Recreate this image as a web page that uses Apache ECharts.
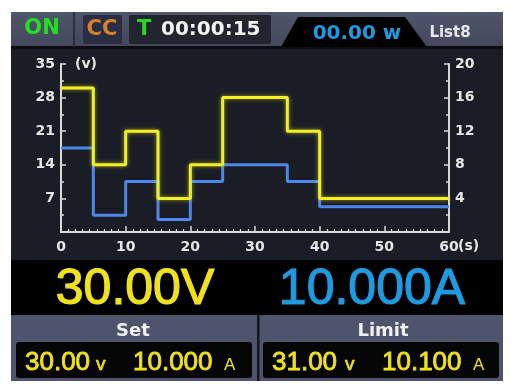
<!DOCTYPE html>
<html><head><meta charset="utf-8">
<script src="https://cdn.jsdelivr.net/npm/echarts@6/dist/echarts.min.js"></script>
<style>html,body{margin:0;padding:0;background:#fff;}#c{width:516px;height:390px;}</style>
</head><body><div id="c"></div>
<script>
// ---- data ----
const stepTimes    = [0, 5, 10, 15, 20, 25, 35, 40, 60];
const voltageSteps = [30, 14, 21, 7, 14, 28, 21, 7, 7];
const currentSteps = [10, 2, 6, 1.5, 6, 8, 6, 3, 3];
const voltAxis = {min: 0, max: 35, interval: 7};
const ampAxis  = {min: 0, max: 20, interval: 4};
const timeAxis = {min: 0, max: 60, interval: 10};
const voltUnit = '(v)', timeUnit = '(s)';
const statusOn = 'ON', modeText = 'CC', timerLabel = 'T', timerValue = '00:00:15';
const powerText = '00.00 w', listName = 'List8';
const readVolt = '30.00V', readAmp = '10.000A';
const setTitle = 'Set', limitTitle = 'Limit';
const setVolt = '30.00', setAmp = '10.000', limitVolt = '31.00', limitAmp = '10.100';

const chart = echarts.init(document.getElementById('c'), null, {renderer: 'canvas'});
const AX = '#d9d9d9';
const DJ = 'DejaVu Sans', LS = 'Liberation Sans';
const YEL = '#f0e11e', BLU = '#1e9be0';

function yAxisCfg(cfg, pos) {
  return Object.assign({
    type: 'value', position: pos,
    axisLine: {show: true, lineStyle: {color: AX, width: 2}},
    axisTick: {show: true, inside: true, length: 5, lineStyle: {color: AX, width: 1.5}},
    minorTick: {show: true, splitNumber: 2, length: 3, lineStyle: {color: AX, width: 1.5}},
    splitLine: {show: false},
    axisLabel: {color: '#e6e6e6', fontFamily: DJ, fontWeight: 'bold', fontSize: 14, margin: 6, showMinLabel: false}
  }, cfg);
}

function txt(text, x, y, font, fill, align, strokeW) {
  const st = {text: text, x: x, y: y, font: font, fill: fill, textAlign: align || 'left', textVerticalAlign: 'middle'};
  if (strokeW) { st.stroke = fill; st.lineWidth = strokeW; }
  return {type: 'text', z: 5, silent: true, style: st};
}
function rect(x, y, w, h, fill, r, z) {
  return {type: 'rect', z: z === undefined ? -5 : z, silent: true, shape: {x: x, y: y, width: w, height: h, r: r || 0}, style: {fill: fill}};
}

const graphics = [
  rect(11, 12, 492, 36, {type: 'linear', x: 0, y: 0, x2: 0, y2: 1, colorStops: [{offset: 0, color: '#50566b'}, {offset: 1, color: '#42475a'}]}),
  rect(11, 46, 492, 3, '#0c0d12'),
  rect(11, 48, 492, 212, '#1b1d26', 0, -6),
  rect(11, 260, 492, 55, '#000000'),
  rect(11, 315, 492, 66, '#4d546b'),
  rect(257, 315, 2.5, 66, '#14161d', 0, -4),
  rect(73, 12, 2, 35, '#2c303d', 0, -4),
  rect(83, 15, 39, 29, '#2a2e44', 2, -4),
  rect(129, 15, 142, 29, '#22252f', 2, -4),
  {type: 'polygon', z: -4, silent: true, shape: {points: [[281, 47], [298, 17], [405, 17], [427, 47]]}, style: {fill: '#000000'}},
  rect(16, 342, 236, 36, '#060606', 3, -4),
  rect(263, 342, 236, 36, '#060606', 3, -4),

  txt(statusOn, 42, 29, 'bold 21px "' + DJ + '"', '#22e01e', 'center'),
  txt(modeText, 102, 30, 'bold 21px "' + DJ + '"', '#d5802c', 'center'),
  txt(timerLabel, 137, 30, 'bold 21px "' + DJ + '"', '#24d820', 'left'),
  txt(timerValue, 161, 30, 'bold 20px "' + DJ + '"', '#f2f2f2', 'left'),
  txt(powerText, 357, 33.5, 'bold 20px "' + DJ + '"', BLU, 'center'),
  txt(listName, 450, 33, 'bold 15px "' + DJ + '"', '#e4e6ec', 'center'),

  txt(voltUnit, 75, 64, 'bold 14px "' + DJ + '"', '#e6e6e6', 'left'),
  txt(timeUnit, 458, 246.5, 'bold 14px "' + DJ + '"', '#e6e6e6', 'left'),

  txt(readVolt, 135, 290, 'normal 50px "' + LS + '"', YEL, 'center', 1.2),
  txt(readAmp, 372, 290, 'normal 50px "' + LS + '"', BLU, 'center', 1.2),

  txt(setTitle, 133, 331, 'bold 18px "' + DJ + '"', '#f0f0f0', 'center'),
  txt(limitTitle, 383, 331, 'bold 18px "' + DJ + '"', '#f0f0f0', 'center'),

  txt(setVolt, 25, 362.5, 'normal 26px "' + LS + '"', YEL, 'left', 0.8),
  txt('v', 96, 364.5, 'normal 19px "' + LS + '"', YEL, 'left', 0.6),
  txt(setAmp, 133, 362.5, 'normal 26px "' + LS + '"', YEL, 'left', 0.8),
  txt('A', 224, 365, 'normal 17px "' + LS + '"', YEL, 'left'),
  txt(limitVolt, 272, 362.5, 'normal 26px "' + LS + '"', YEL, 'left', 0.8),
  txt('v', 345, 364.5, 'normal 19px "' + LS + '"', YEL, 'left', 0.6),
  txt(limitAmp, 382, 362.5, 'normal 26px "' + LS + '"', YEL, 'left', 0.8),
  txt('A', 473, 365, 'normal 17px "' + LS + '"', YEL, 'left')
];

const option = {
  backgroundColor: '#ffffff',
  animation: false,
  grid: {left: 61, right: 67, top: 64, bottom: 158, containLabel: false},
  xAxis: {
    type: 'value', min: timeAxis.min, max: timeAxis.max, interval: timeAxis.interval,
    axisLine: {show: true, onZero: false, lineStyle: {color: AX, width: 2}},
    axisTick: {show: true, inside: true, length: 6, lineStyle: {color: AX, width: 1.5}},
    minorTick: {show: true, splitNumber: 9, length: 3, lineStyle: {color: AX, width: 1.2}},
    splitLine: {show: false},
    axisLabel: {color: '#e6e6e6', fontFamily: DJ, fontWeight: 'bold', fontSize: 14, margin: 8}
  },
  yAxis: [
    yAxisCfg({min: voltAxis.min, max: voltAxis.max, interval: voltAxis.interval}, 'left'),
    yAxisCfg({min: ampAxis.min, max: ampAxis.max, interval: ampAxis.interval}, 'right')
  ],
  series: [
    {
      name: 'Current', type: 'line', step: 'end', yAxisIndex: 1, symbol: 'none', z: 3,
      data: stepTimes.map((t, i) => [t, currentSteps[i]]),
      lineStyle: {color: '#4a88ea', width: 3}
    },
    {
      name: 'Voltage', type: 'line', step: 'end', yAxisIndex: 0, symbol: 'none', z: 4,
      data: stepTimes.map((t, i) => [t, voltageSteps[i]]),
      lineStyle: {color: '#f2f020', width: 3, shadowColor: 'rgba(240,240,40,0.6)', shadowBlur: 4}
    }
  ],
  graphic: graphics
};
chart.setOption(option);
</script>
</body></html>
